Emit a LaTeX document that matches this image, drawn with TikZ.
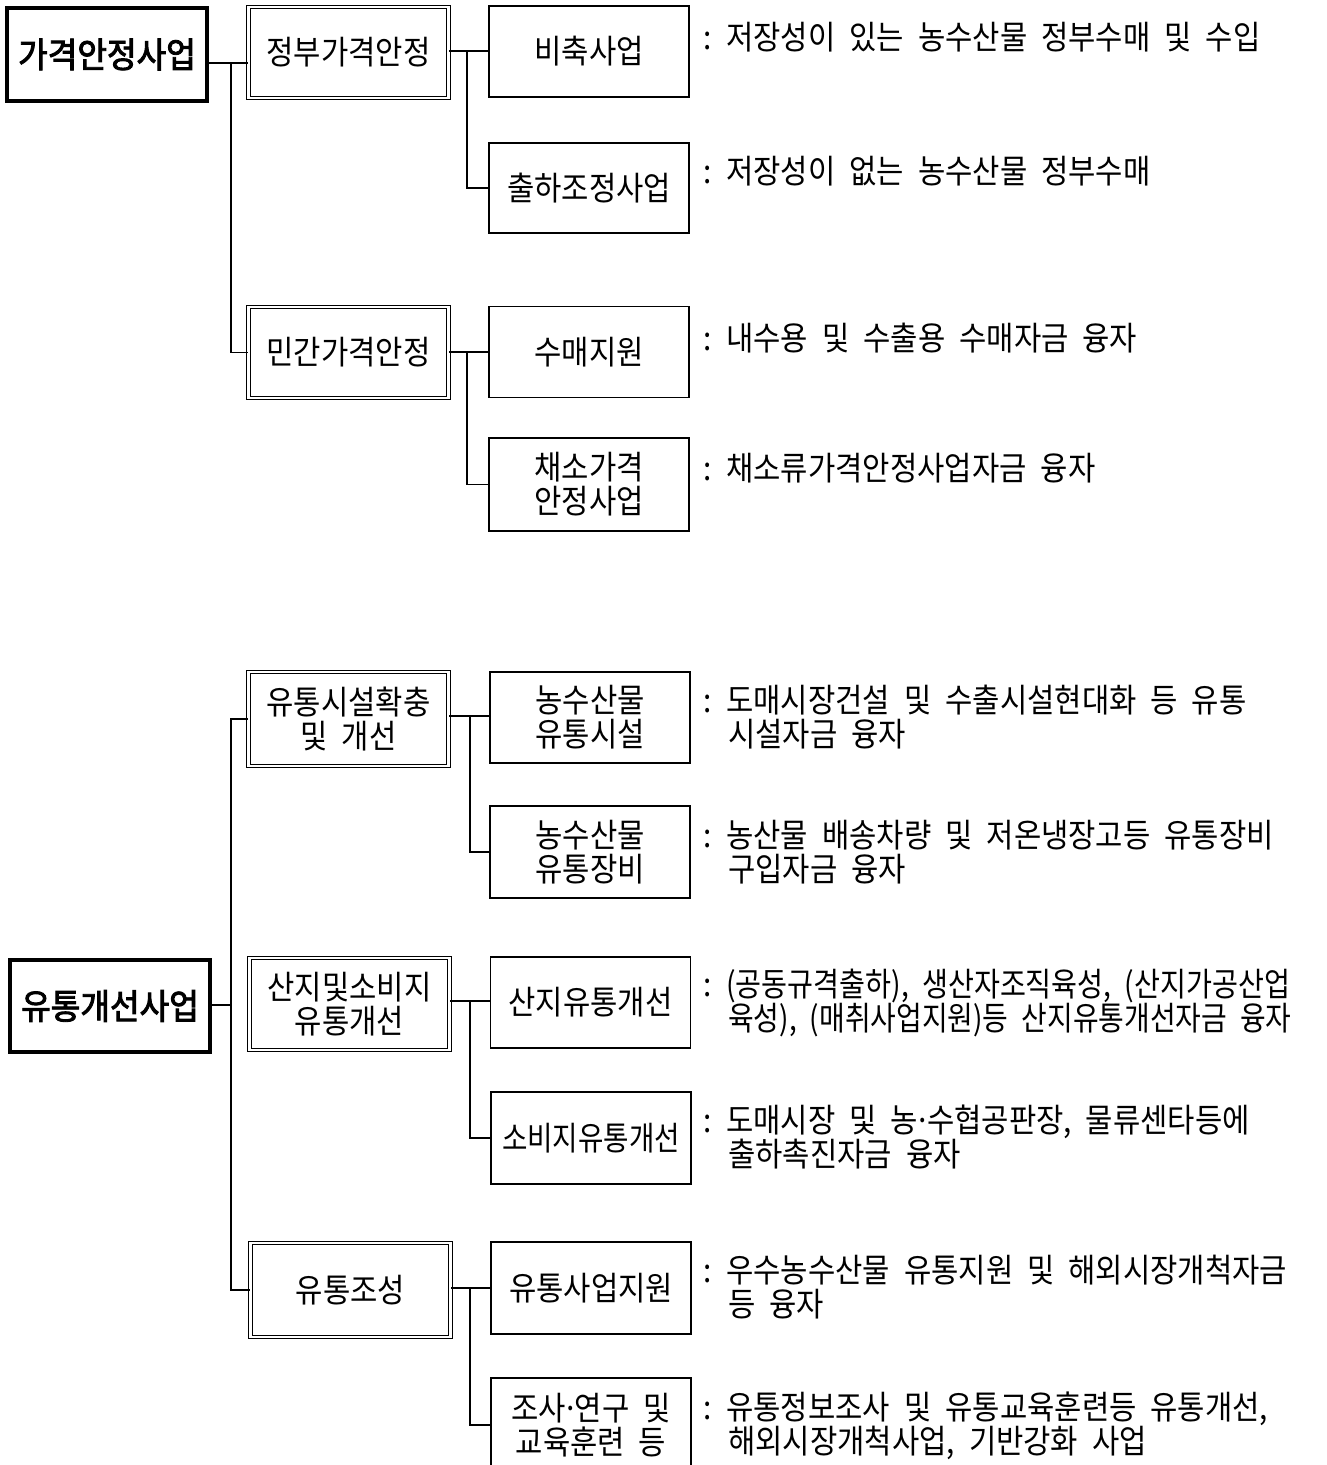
\documentclass[tikz,border=0pt]{standalone}
\usepackage{graphicx}
\usepackage{fontspec}
\setmainfont{Noto Sans CJK KR}[FakeStretch=0.9,WordSpace=2.1]
\newfontfamily\krbold{Noto Sans CJK KR}[FakeStretch=0.92,FakeBold=2.5,WordSpace=2.1]
\begin{document}
\begin{tikzpicture}[x=1pt,y=-1pt,
  plainbox/.style={draw, line width=1.4pt, minimum width=200pt, minimum height=91pt,
    inner sep=0pt, align=center, font=\fontsize{33}{34}\selectfont},
  dblbox/.style={plainbox, double, line width=1.1pt, double distance=2.6pt},
  topbox/.style={plainbox, line width=3.2pt, minimum height=93pt, font=\krbold\fontsize{35}{36}\selectfont},
  desc/.style={anchor=west, inner sep=0pt, align=left, font=\fontsize{33}{34}\selectfont},
  conn/.style={line width=1.3pt}]
\useasboundingbox (0,0) rectangle (1326,1465);
\clip (0,0) rectangle (1326,1465);
\fill[white] (0,0) rectangle (1326,1465);
\newcommand{\colonbox}{\makebox[23pt][l]{:}}
\newcommand{\indentbox}{\hspace*{25pt}}
\newcommand{\mdot}{\makebox[9pt]{·}}

% ---------- upper tree ----------
\node[topbox] (A) at (107,54.5) {가격안정사업};
\node[dblbox] (A1) at (348.5,52.5) {정부가격안정};
\node[plainbox] (A11) at (589,51.5) {비축사업};
\node[plainbox, minimum height=90pt] (A12) at (589,188) {출하조정사업};
\node[dblbox] (A2) at (348.5,352.5) {민간가격안정};
\node[plainbox] (A21) at (589,352) {수매지원};
\node[plainbox, minimum height=93pt] (A22) at (589,484.5) {채소가격\\안정사업};

\node[desc] (DA11) at (703,37) {\colonbox 저장성이 있는 농수산물 정부수매 및 수입};
\node[desc] (DA12) at (703,171) {\colonbox 저장성이 없는 농수산물 정부수매};
\node[desc] (DA21) at (703,338) {\colonbox 내수용 및 수출용 수매자금 융자};
\node[desc] (DA22) at (703,468) {\colonbox 채소류가격안정사업자금 융자};

\coordinate (sA) at (231,63);
\draw[conn] (A.east |- sA) -- (A1.west |- sA);
\draw[conn] (sA) |- (A2.west);
\coordinate (tA1) at (467,51);
\draw[conn] (A1.east |- tA1) -- (A11.west |- tA1);
\draw[conn] (tA1) |- (A12.west);
\coordinate (tA2) at (467,352);
\draw[conn] (A2.east |- tA2) -- (A21.west |- tA2);
\draw[conn] (tA2) |- (A22.west);

% ---------- lower tree ----------
\node[topbox, minimum height=92pt] (B) at (110,1006) {유통개선사업};
\node[dblbox, minimum height=94pt] (B1) at (348.5,719) {유통시설확충\\및 개선};
\node[plainbox] (B11) at (590,717.5) {농수산물\\유통시설};
\node[plainbox, minimum height=92pt] (B12) at (590,852) {농수산물\\유통장비};
\node[dblbox, minimum height=92pt] (B2) at (349.5,1004) {산지및소비지\\유통개선};
\node[plainbox] (B21) at (590.5,1002.5) {산지유통개선};
\node[plainbox, minimum height=92pt] (B22) at (591,1138) {\scalebox{0.93}[1]{소비지유통개선}};
\node[dblbox, minimum height=94pt] (B3) at (350.5,1290) {유통조성};
\node[plainbox, minimum height=92pt] (B31) at (591,1288) {유통사업지원};
\node[plainbox, minimum height=94pt] (B32) at (591,1425) {조사\mdot 연구 및\\교육훈련 등};

\node[desc] (DB11) at (703,717) {\colonbox 도매시장건설 및 수출시설현대화 등 유통\\\indentbox 시설자금 융자};
\node[desc] (DB12) at (703,852) {\colonbox 농산물 배송차량 및 저온냉장고등 유통장비\\\indentbox 구입자금 융자};
\node[desc] (DB21) at (703,1003) {\colonbox \scalebox{0.95}[1]{(공동규격출하), 생산자조직육성, (산지가공산업}\\\indentbox \scalebox{0.94}[1]{육성), (매취사업지원)등 산지유통개선자금 융자}};
\node[desc] (DB22) at (703,1137) {\colonbox 도매시장 및 농\mdot 수협공판장, 물류센타등에\\\indentbox 출하촉진자금 융자};
\node[desc] (DB31) at (703,1287) {\colonbox 우수농수산물 유통지원 및 해외시장개척자금\\\indentbox 등 융자};
\node[desc] (DB32) at (703,1426) {\colonbox 유통정보조사 및 유통교육훈련등 유통개선,\\\indentbox 해외시장개척사업, 기반강화 사업};

\coordinate (sB) at (231,1005);
\draw[conn] (B.east |- sB) -- (sB);
\draw[conn] (B1.west) -- (B1.west -| sB) -- (B3.west -| sB) -- (B3.west);
\coordinate (tB1) at (470,716);
\draw[conn] (B1.east |- tB1) -- (B11.west |- tB1);
\draw[conn] (tB1) |- (B12.west);
\coordinate (tB2) at (470,1001);
\draw[conn] (B2.east |- tB2) -- (B21.west |- tB2);
\draw[conn] (tB2) |- (B22.west);
\coordinate (tB3) at (470,1288);
\draw[conn] (B3.east |- tB3) -- (B31.west |- tB3);
\draw[conn] (tB3) |- (B32.west);
\end{tikzpicture}
\end{document}
